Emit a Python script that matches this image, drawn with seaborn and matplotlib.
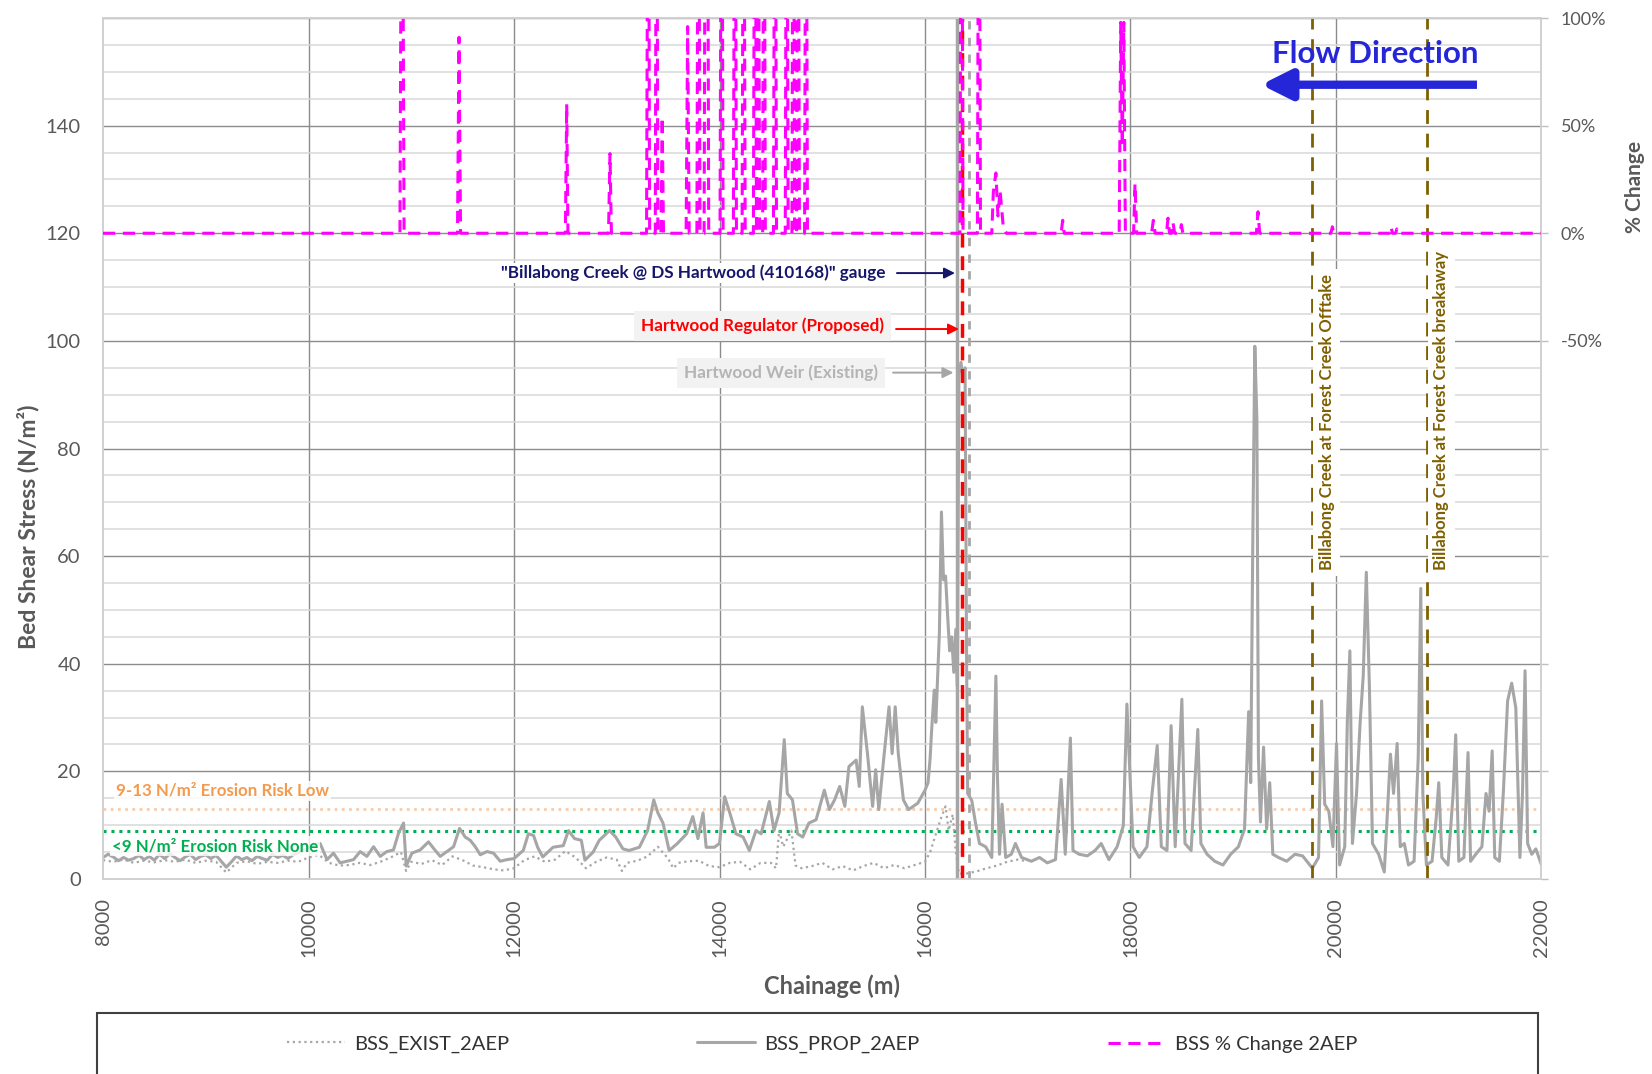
import matplotlib
matplotlib.use('Agg')
import matplotlib.pyplot as plt
import seaborn as sns
import numpy as np
from matplotlib.lines import Line2D
from matplotlib.patches import Rectangle

# ---------------- data ----------------
prop_x = [8000, 8050, 8100, 8150, 8200, 8250, 8300, 8350, 8400, 8450, 8500, 8550, 8600, 8650, 8700,
          8750, 8800, 8850, 8900, 8950, 9000, 9050, 9100, 9150, 9200, 9250, 9300, 9350, 9400, 9450,
          9500, 9550, 9600, 9650, 9700, 9750, 9800, 9850, 9900, 9950, 10000, 10050, 10113, 10180,
          10243, 10308, 10373, 10438, 10503, 10568, 10633, 10698, 10762, 10827, 10876, 10925, 10951,
          11006, 11087, 11168, 11217, 11282, 11347, 11412, 11470, 11525, 11574, 11623, 11672, 11736,
          11801, 11866, 11931, 12000, 12090, 12140, 12190, 12230, 12280, 12380, 12480, 12530, 12590,
          12655, 12690, 12770, 12830, 12930, 12990, 13060, 13120, 13220, 13300, 13360, 13400, 13450,
          13510, 13590, 13680, 13740, 13790, 13840, 13870, 13950, 14000, 14050, 14100, 14160, 14230,
          14290, 14355, 14405, 14485, 14530, 14580, 14630, 14660, 14710, 14760, 14810, 14870, 14940,
          15020, 15070, 15120, 15170, 15220, 15260, 15330, 15360, 15390, 15440, 15490, 15520, 15550,
          15600, 15650, 15680, 15710, 15740, 15790, 15840, 15930, 16000, 16030, 16050, 16065, 16090,
          16105, 16120, 16140, 16160, 16180, 16200, 16220, 16240, 16260, 16280, 16300, 16315, 16330,
          16350, 16370, 16390, 16405, 16415, 16455, 16490, 16530, 16590, 16650, 16690, 16705, 16725,
          16750, 16785, 16840, 16880, 16940, 17035, 17115, 17190, 17270, 17325, 17365, 17415, 17440,
          17500, 17580, 17655, 17715, 17790, 17870, 17930, 17965, 17995, 18025, 18085, 18160, 18210,
          18260, 18300, 18355, 18395, 18435, 18500, 18530, 18590, 18655, 18685, 18745, 18820, 18900,
          18975, 19050, 19110, 19150, 19170, 19190, 19210, 19230, 19245, 19265, 19295, 19325, 19355,
          19385, 19440, 19520, 19600, 19675, 19770, 19830, 19860, 19890, 19930, 19970, 20005, 20035,
          20085, 20110, 20135, 20160, 20200, 20235, 20265, 20295, 20325, 20355, 20415, 20470, 20530,
          20560, 20595, 20625, 20665, 20705, 20760, 20800, 20825, 20845, 20880, 20935, 20975, 21000,
          21030, 21090, 21140, 21165, 21195, 21245, 21285, 21310, 21360, 21420, 21460, 21490, 21520,
          21545, 21590, 21630, 21670, 21710, 21750, 21790, 21815, 21840, 21865, 21905, 21945, 22000]
prop_y = [4.0, 4.6, 4.1, 3.4, 4.0, 3.5, 3.8, 4.4, 3.6, 4.2, 3.5, 4.6, 3.8, 4.7, 4.0,
          3.4, 4.1, 4.6, 3.6, 4.2, 4.5, 3.8, 4.4, 3.3, 2.2, 3.2, 4.3, 3.6, 4.0, 3.4,
          4.2, 3.8, 3.5, 4.6, 4.0, 4.4, 3.8, 4.5, 4.9, 5.3, 5.8, 6.4, 6.6, 3.6,
          4.8, 3.0, 3.3, 3.6, 5.1, 4.2, 6.0, 4.2, 5.1, 5.4, 8.5, 10.4, 2.4,
          4.8, 5.4, 6.9, 5.7, 4.2, 5.1, 6.0, 9.4, 7.8, 7.2, 6.0, 4.5, 5.1,
          4.8, 3.3, 3.6, 3.8, 5.3, 8.4, 8.1, 5.9, 4.1, 5.9, 6.2, 9.0, 7.5,
          7.2, 3.5, 5.0, 7.2, 9.0, 7.8, 5.6, 5.3, 5.9, 9.0, 14.7, 12.3, 10.4,
          5.3, 6.6, 8.4, 11.6, 7.5, 12.3, 5.9, 5.9, 6.6, 15.3, 12.3, 8.4, 7.8,
          5.3, 9.0, 8.4, 14.4, 9.0, 12.3, 25.9, 15.9, 14.7, 8.4, 7.8, 10.4, 11.0,
          16.5, 12.9, 14.7, 17.2, 13.5, 20.9, 22.1, 17.2, 32.0, 23.3, 13.5, 20.3, 12.9,
          22.7, 32.0, 23.3, 32.0, 23.3, 14.7, 12.9, 14.1, 16.5, 17.9, 22.5, 27.8, 35.1,
          29.1, 36.4, 45.7, 68.2, 55.6, 56.3, 49.0, 42.4, 45.0, 38.4, 46.4, 35.8, 94.0,
          96.0, 93.0, 95.0, 40.0, 15.9, 14.6, 10.6, 6.6, 6.0, 4.0, 37.7, 19.2, 4.6,
          13.9, 4.0, 4.6, 6.6, 4.0, 3.3, 4.0, 3.0, 3.6, 18.5, 4.6, 26.2, 5.3,
          4.6, 4.3, 5.3, 6.6, 3.6, 6.0, 9.9, 32.5, 19.2, 6.0, 4.0, 6.0, 15.9,
          24.8, 6.0, 5.3, 28.5, 6.0, 33.4, 6.6, 5.3, 27.8, 6.6, 4.6, 3.3, 2.6,
          4.6, 6.0, 9.3, 31.1, 17.9, 62.3, 99.0, 85.4, 22.5, 10.6, 24.5, 9.3, 17.9,
          4.6, 4.0, 3.3, 4.6, 4.3, 2.0, 4.0, 33.1, 13.9, 12.6, 6.0, 25.2, 2.6,
          6.0, 29.1, 42.4, 6.6, 15.9, 29.1, 37.7, 57.0, 35.8, 6.6, 4.6, 1.3, 23.2,
          15.9, 25.2, 6.0, 6.6, 2.6, 3.3, 22.5, 54.0, 15.9, 2.6, 3.3, 11.3, 17.9,
          4.0, 2.6, 15.9, 26.8, 3.3, 4.0, 23.5, 3.3, 4.6, 6.0, 15.9, 12.6, 23.8,
          4.0, 3.3, 16.6, 33.1, 36.4, 31.8, 4.0, 15.9, 38.7, 6.6, 4.6, 5.6, 2.6]

exist_x = [8000, 8100, 8200, 8300, 8400, 8500, 8600, 8700, 8800, 8900, 9000, 9100, 9200, 9300,
           9400, 9500, 9600, 9700, 9800, 9900, 10000, 10100, 10200, 10300, 10400, 10500, 10600,
           10700, 10800, 10900, 10950, 11000, 11100, 11200, 11300, 11400, 11500, 11600, 11700,
           11800, 11900, 12000, 12100, 12200, 12300, 12400, 12500, 12600, 12700, 12800, 12900,
           13000, 13050, 13100, 13200, 13300, 13400, 13500, 13550, 13600, 13700, 13800, 13900,
           14000, 14100, 14200, 14300, 14400, 14500, 14550, 14580, 14620, 14700, 14740, 14800,
           14900, 15000, 15100, 15200, 15300, 15400, 15500, 15600, 15700, 15800, 15900, 16000,
           16050, 16100, 16150, 16200, 16230, 16270, 16300, 16330, 16400, 16500, 16600, 16700,
           16800, 16900, 17000]
exist_y = [3.5, 3.2, 3.6, 3.0, 3.4, 3.1, 3.5, 3.2, 3.6, 3.0, 3.4, 3.2, 1.2, 3.0,
           3.3, 2.8, 3.2, 3.0, 3.4, 3.2, 4.0, 4.5, 3.0, 2.5, 2.6, 3.0, 2.6,
           3.2, 4.0, 5.0, 1.5, 3.2, 2.8, 3.5, 2.6, 4.2, 3.5, 2.5, 2.2,
           1.8, 1.6, 2.0, 3.5, 4.2, 3.2, 3.6, 5.2, 4.0, 2.0, 3.2, 4.0,
           3.6, 1.5, 3.0, 3.4, 4.2, 6.0, 3.8, 2.0, 3.0, 3.3, 3.4, 2.4,
           2.2, 3.0, 3.2, 1.8, 3.0, 3.0, 2.0, 9.0, 6.0, 9.0, 2.5, 2.0,
           2.4, 3.0, 1.8, 2.4, 1.6, 2.4, 3.0, 2.0, 2.6, 2.0, 2.6, 3.2,
           5.0, 8.0, 11.0, 13.5, 9.0, 12.0, 5.0, 1.0, 1.0, 1.4, 2.0, 2.5,
           3.2, 3.6, 3.3]

pct_x = [8000, 10890, 10910, 10930, 11450, 11465, 11480, 12500, 12513, 12525, 12920, 12934, 12948,
         13290, 13307, 13320, 13375, 13388, 13400, 13430, 13442, 13455, 13675, 13690, 13705,
         13780, 13795, 13810, 13850, 13865, 13881, 13895, 14005, 14021, 14035, 14135, 14150, 14165,
         14220, 14235, 14250, 14330, 14345, 14360, 14375, 14390, 14420, 14433, 14446, 14525, 14540,
         14555, 14640, 14654, 14668, 14705, 14718, 14731, 14750, 14764, 14778, 14828, 14842, 14856,
         16340, 16355, 16370, 16510, 16525, 16540, 16650, 16665, 16690, 16710, 16730, 16760, 16790,
         17325, 17340, 17355, 17890, 17905, 17920, 17935, 17950, 18030, 18044, 18060, 18205, 18222,
         18240, 18350, 18365, 18380, 18400, 18413, 18430, 18480, 18495, 18510, 19225, 19241, 19257,
         19950, 19965, 19980, 20520, 20535, 20550, 20580, 20592, 20605, 22000]
pct_y = [0, 0, 250, 0, 0, 91, 0, 0, 60, 0, 0, 37, 0,
         0, 250, 0, 0, 250, 0, 0, 54, 0, 0, 96, 0,
         0, 250, 0, 0, 250, 250, 0, 0, 250, 0, 0, 250, 0,
         0, 250, 0, 0, 250, 0, 250, 0, 0, 250, 0, 0, 250,
         0, 0, 250, 0, 0, 250, 0, 0, 250, 0, 0, 250, 0,
         0, 250, 0, 0, 250, 0, 0, 19, 28, 8, 20, 4, 0,
         0, 6, 0, 0, 98, 40, 98, 0, 0, 23, 0, 0, 6,
         0, 0, 7, 0, 0, 5, 0, 0, 4, 0, 0, 10, 0,
         0, 3, 0, 0, 3, 0, 0, 2, 0, 0]

x_ticks = [8000, 10000, 12000, 14000, 16000, 18000, 20000, 22000]
y_ticks = [0, 20, 40, 60, 80, 100, 120, 140, 160]
y_tick_labels = ['0', '20', '40', '60', '80', '100', '120', '140', '']
pct_ticks = [-300, -250, -200, -150, -100, -50, 0, 50, 100]
pct_tick_labels = ['', '', '', '', '', '-50%', '0%', '50%', '100%']

erosion_low = 13
erosion_none = 9
gauge_ch = 16315
regulator_ch = 16360
weir_ch = 16430
offtake_ch = 19770
breakaway_ch = 20888

# ---------------- style ----------------
sns.set_theme(style='white')
plt.rcParams['font.family'] = ['Lato', 'DejaVu Sans']

GREY_TXT = '#595959'
LINE_GREY = '#a6a6a6'
MAGENTA = '#ff00ff'
BROWN = '#7f6000'

fig = plt.figure(figsize=(16.52, 10.74), dpi=100)
ax = fig.add_axes([0.06235, 0.18156, 0.87076, 0.80168])
ax2 = ax.twinx()

# series
sns.lineplot(x=exist_x, y=exist_y, ax=ax, color=LINE_GREY, lw=1.6, errorbar=None, zorder=3)
ax.lines[-1].set_linestyle((0, (1, 1.6)))
sns.lineplot(x=prop_x, y=prop_y, ax=ax, color=LINE_GREY, lw=2.2, errorbar=None, zorder=4)
sns.lineplot(x=pct_x, y=pct_y, ax=ax2, color=MAGENTA, lw=2.2, errorbar=None, zorder=4)
ax2.lines[-1].set_linestyle((0, (4, 2.5)))

# axes
ax.set_xlim(8000, 22000)
ax.set_ylim(0, 160)
ax2.set_ylim(-300, 100)
ax.set_xticks(x_ticks)
ax.set_xticklabels([str(v) for v in x_ticks], rotation=90)
ax.set_yticks(y_ticks)
ax.set_yticklabels(y_tick_labels)
ax.set_yticks(np.arange(0, 161, 5), minor=True)
ax2.set_yticks(pct_ticks)
ax2.set_yticklabels(pct_tick_labels)
ax.set_xlabel('')
ax.set_ylabel('')
ax2.set_ylabel('')

ax.grid(True, which='major', axis='both', color='#8c8c8c', lw=1.0, zorder=0)
ax.grid(True, which='minor', axis='y', color='#d9d9d9', lw=1.1, zorder=0)
ax.set_axisbelow(True)
ax.xaxis.get_major_ticks()[0].gridline.set_visible(False)
ax.xaxis.get_major_ticks()[-1].gridline.set_visible(False)
ax.yaxis.get_major_ticks()[0].gridline.set_visible(False)

ax.tick_params(axis='both', which='both', length=0)
ax.tick_params(axis='y', labelsize=14.5, labelcolor=GREY_TXT, pad=16)
ax.tick_params(axis='x', labelsize=14.5, labelcolor=GREY_TXT, pad=14)
ax2.tick_params(axis='y', which='major', length=5, color='#bfbfbf', width=1.0,
                labelsize=13, labelcolor=GREY_TXT, pad=9)
for a in (ax, ax2):
    for s in a.spines.values():
        s.set_color('#d0d0d0')
        s.set_linewidth(1.2)

# threshold lines
ax.axhline(erosion_low, color='#f8cbad', lw=2.0, linestyle=(0, (1, 1.6)), zorder=2)
ax.axhline(erosion_none, color='#00b050', lw=2.2, linestyle=(0, (1, 1.6)), zorder=2)
ax.text(8127, 16.4, '9-13 N/m² Erosion Risk Low', color='#f39a4e', fontsize=12.2, fontweight='bold',
        ha='left', va='center', zorder=6,
        bbox=dict(facecolor='white', edgecolor='none', pad=1.5, alpha=0.85))
ax.text(8088, 6.1, '<9 N/m² Erosion Risk None', color='#00b050', fontsize=12.2, fontweight='bold',
        ha='left', va='center', zorder=6,
        bbox=dict(facecolor='white', edgecolor='none', pad=1.5, alpha=0.8))

# structure lines
ax.axvline(gauge_ch, color=LINE_GREY, lw=2.5, zorder=5)
ax.axvline(weir_ch, color=LINE_GREY, lw=2.0, linestyle=(0, (3, 3)), zorder=5)
ax.axvline(regulator_ch, color='#ff0000', lw=2.5, linestyle=(0, (4, 2.5)), zorder=6)
ax.axvline(offtake_ch, color=BROWN, lw=2.0, linestyle=(0, (5, 3.5)), zorder=5)
ax.axvline(breakaway_ch, color=BROWN, lw=2.0, linestyle=(0, (5, 3.5)), zorder=5)

ax.text(19910, 57.4, 'Billabong Creek at Forest Creek Offtake', rotation=90, ha='center', va='bottom',
        color=BROWN, fontsize=12, fontweight='bold', zorder=6,
        bbox=dict(facecolor='white', edgecolor='none', pad=4))
ax.text(21022, 57.4, 'Billabong Creek at Forest Creek breakaway', rotation=90, ha='center', va='bottom',
        color=BROWN, fontsize=12, fontweight='bold', zorder=6,
        bbox=dict(facecolor='white', edgecolor='none', pad=4))

# annotations
NAVY = '#16166b'
ax.text(15620, 112.6, '"Billabong Creek @ DS Hartwood (410168)" gauge', ha='right', va='center',
        color=NAVY, fontsize=12.3, fontweight='bold', zorder=7,
        bbox=dict(facecolor='white', edgecolor='none', pad=1))
ax.annotate('', xy=(16292, 112.6), xytext=(15727, 112.6),
            arrowprops=dict(arrowstyle='-|>', color=NAVY, lw=1.4, shrinkA=0, shrinkB=0,
                            mutation_scale=16), zorder=7)
ax.text(15601, 102.8, 'Hartwood Regulator (Proposed)', ha='right', va='center',
        color='#ff0000', fontsize=12.3, fontweight='bold', zorder=7,
        bbox=dict(boxstyle='square,pad=0.4', facecolor='#f2f2f2', edgecolor='none'))
ax.annotate('', xy=(16331, 102.2), xytext=(15718, 102.2),
            arrowprops=dict(arrowstyle='-|>', color='#ff0000', lw=1.4, shrinkA=0, shrinkB=0,
                            mutation_scale=16), zorder=7)
ax.text(15543, 94.1, 'Hartwood Weir (Existing)', ha='right', va='center',
        color='#b4b4b4', fontsize=12.3, fontweight='bold', zorder=7,
        bbox=dict(boxstyle='square,pad=0.4', facecolor='#f2f2f2', edgecolor='none'))
ax.annotate('', xy=(16277, 94.1), xytext=(15689, 94.1),
            arrowprops=dict(arrowstyle='-|>', color=LINE_GREY, lw=1.4, shrinkA=0, shrinkB=0,
                            mutation_scale=16), zorder=7)

# flow direction
BLUE = '#2626d9'
ax.text(20380, 153.4, 'Flow Direction', ha='center', va='center', color=BLUE,
        fontsize=22.5, fontweight='bold', zorder=7)
ax.annotate('', xy=(19270, 147.6), xytext=(21372, 147.6),
            arrowprops=dict(arrowstyle='-|>,head_length=0.9,head_width=0.45', lw=6.0, color=BLUE,
                            shrinkA=0, shrinkB=0, mutation_scale=20, capstyle='butt'), zorder=7)

# axis titles
fig.text(0.017, 0.5093, 'Bed Shear Stress (N/m²)', rotation=90, ha='center', va='center',
         fontsize=16.5, fontweight='bold', color=GREY_TXT)
fig.text(0.9897, 0.826, '% Change', rotation=90, ha='center', va='center',
         fontsize=15, fontweight='bold', color=GREY_TXT)
fig.text(0.5036, 0.0819, 'Chainage (m)', ha='center', va='center',
         fontsize=17, fontweight='bold', color=GREY_TXT)

# legend box and entries
fig.add_artist(Rectangle((97 / 1652, -0.1), (1538 - 97) / 1652, 0.1 + (1 - 1013 / 1074),
                         transform=fig.transFigure, fill=False, edgecolor='#404040', lw=1.5))
handles = [
    Line2D([], [], color=LINE_GREY, lw=1.6, linestyle=(0, (1, 1.6))),
    Line2D([], [], color=LINE_GREY, lw=2.2),
    Line2D([], [], color=MAGENTA, lw=2.2, linestyle=(0, (4, 2.5))),
]
names = ['BSS_EXIST_2AEP', 'BSS_PROP_2AEP', 'BSS % Change 2AEP']
starts = [287, 697, 1108]
for h, n, x0 in zip(handles, names, starts):
    lg = fig.legend([h], [n], loc='center left', bbox_to_anchor=(x0 / 1652, 0.0279),
                    frameon=False, fontsize=14.5, handlelength=2.9, handletextpad=0.45,
                    borderpad=0, borderaxespad=0)
    for t in lg.get_texts():
        t.set_color('#333333')

fig.savefig('out.png', dpi=100)
